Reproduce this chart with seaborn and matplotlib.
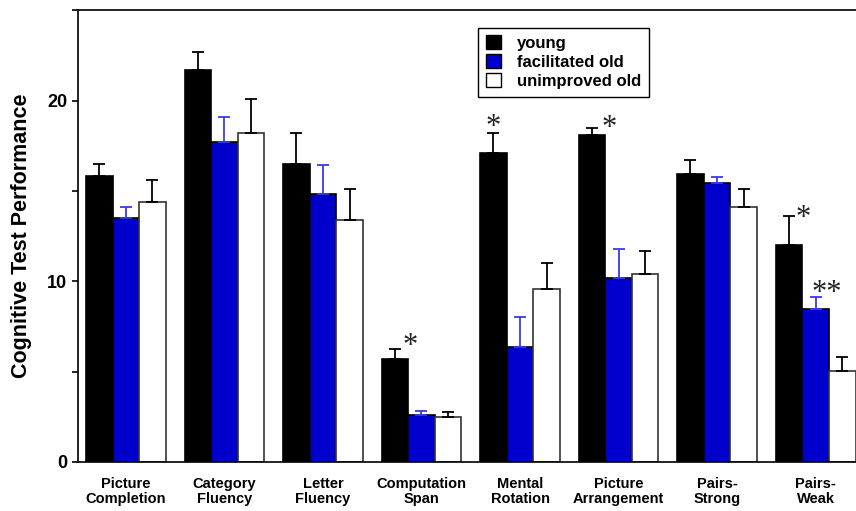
import numpy as np
import pandas as pd
import matplotlib.pyplot as plt
import matplotlib.patches as mpatches
import seaborn as sns

# data
tests = ["Picture\nCompletion", "Category\nFluency", "Letter\nFluency", "Computation\nSpan",
         "Mental\nRotation", "Picture\nArrangement", "Pairs-\nStrong", "Pairs-\nWeak"]
groups = ["young", "facilitated old", "unimproved old"]

young = [15.8, 21.7, 16.5, 5.7, 17.1, 18.1, 15.95, 12.0]
young_err = [0.7, 1.0, 1.7, 0.55, 1.1, 0.4, 0.75, 1.6]
facilitated = [13.5, 17.7, 14.85, 2.6, 6.35, 10.2, 15.45, 8.45]
facilitated_err = [0.6, 1.4, 1.6, 0.22, 1.65, 1.6, 0.3, 0.7]
unimproved = [14.4, 18.2, 13.4, 2.5, 9.55, 10.4, 14.1, 5.05]
unimproved_err = [1.2, 1.9, 1.7, 0.25, 1.45, 1.3, 1.0, 0.75]

# significance marks: (group index, test index, label)
sig_marks = [(0, 3, "*"), (0, 4, "*"), (0, 5, "*"), (0, 7, "*"), (1, 7, "**")]

sns.set_style("ticks")
plt.rcParams["font.family"] = ["Liberation Sans", "DejaVu Sans"]
plt.rcParams.update({"text.color": "black", "axes.labelcolor": "black",
                     "xtick.color": "black", "ytick.color": "black"})

df = pd.DataFrame({
    "test": tests * 3,
    "group": np.repeat(groups, len(tests)),
    "score": young + facilitated + unimproved,
})

fill_colors = ["black", "#0000cc", "white"]
edge_colors = ["black", "black", "#333333"]
err_colors = ["black", "#3a3aee", "black"]
errors = [young_err, facilitated_err, unimproved_err]

fig = plt.figure(figsize=(8.56, 5.11), dpi=100)
ax = fig.add_axes([0.091, 0.096, 0.909, 0.884])

sns.barplot(data=df, x="test", y="score", hue="group", hue_order=groups,
            palette=fill_colors, saturation=1, errorbar=None, width=0.81,
            ax=ax, legend=False)

tops = []
for cont, err, ec, erc in zip(ax.containers, errors, edge_colors, err_colors):
    for bar in cont:
        bar.set_edgecolor(ec)
        bar.set_linewidth(1.2)
    xs = np.array([b.get_x() + b.get_width() / 2 for b in cont])
    hs = np.array([b.get_height() for b in cont])
    ax.errorbar(xs, hs, yerr=[np.zeros(len(err)), err], fmt="none", ecolor=erc,
                elinewidth=1.3, capsize=4.3, capthick=1.3, zorder=1)
    tops.append((xs, hs + np.array(err)))

# asterisk offsets (data x, points y) per mark
offsets = [(0.16, 2), (0.0, 4), (0.17, -0.5), (0.14, -2), (0.11, 2)]
for (g, t, lab), (dx, dy) in zip(sig_marks, offsets):
    xs, ys = tops[g]
    ax.annotate(lab, (xs[t] + dx, ys[t]), xytext=(0, dy), textcoords="offset points",
                ha="center", va="center", fontsize=22, family="Liberation Serif",
                color="#222222")

ax.set_xlim(-0.487, 7.41)
ax.set_ylim(0, 25)
ax.set_yticks([0, 10, 20])
ax.set_yticks([5, 15, 25], minor=True)
ax.tick_params(axis="y", which="both", direction="out", length=4, width=1.2,
               labelsize=13)
ax.tick_params(axis="x", length=0, labelsize=10.5, pad=11)
for lab in ax.get_xticklabels() + ax.get_yticklabels():
    lab.set_fontweight("bold")
    lab.set_linespacing(1.1)
ax.set_xlabel("")
ax.set_ylabel("Cognitive Test Performance", fontsize=15.5, fontweight="bold", labelpad=11)

ax.spines["right"].set_visible(False)
for s in ["left", "bottom", "top"]:
    ax.spines[s].set_linewidth(1.2)
    ax.spines[s].set_color("black")

handles = [mpatches.Patch(facecolor=fc, edgecolor="black", linewidth=1)
           for fc in fill_colors]
leg = ax.legend(handles, groups, loc="upper left",
                bbox_to_anchor=(478 / 856, 1 - 28 / 511), bbox_transform=fig.transFigure,
                frameon=True, fancybox=False, edgecolor="black", framealpha=1,
                prop={"weight": "bold", "size": 12}, handlelength=0.9,
                handleheight=0.9, handletextpad=1.0, labelspacing=0.2,
                borderpad=0.45, borderaxespad=0)
leg.get_frame().set_linewidth(1)

fig.savefig("out.png", dpi=100)
